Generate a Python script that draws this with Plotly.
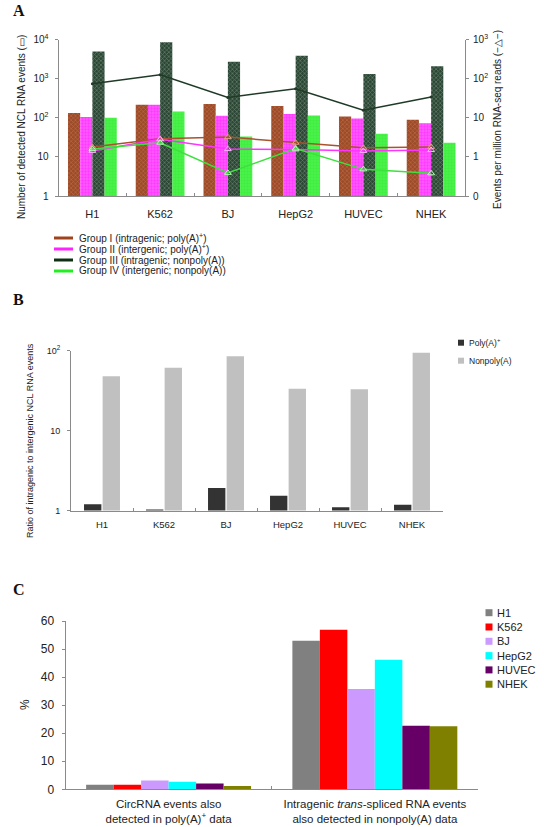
import plotly.graph_objects as go

# ---------------- data ----------------
cells = ["H1", "K562", "BJ", "HepG2", "HUVEC", "NHEK"]

# Panel A - bars: number of detected NCL RNA events (left axis, log)
grp1_events = [132, 215, 224, 200, 107, 89]
grp2_events = [105, 215, 113, 124, 96, 72]
grp3_events = [4900, 8500, 2700, 3870, 1320, 2080]
grp4_events = [100, 145, 33, 115, 39, 23]

# Panel A - lines: events per million RNA-seq reads (right axis, log)
grp1_epm = [1.8, 2.9, 3.2, 2.3, 1.7, 1.8]
grp2_epm = [1.42, 2.8, 1.58, 1.55, 1.42, 1.5]
grp3_epm = [74, 126, 33, 55, 15.5, 34]
grp4_epm = [1.6, 2.3, 0.39, 1.63, 0.48, 0.38]

group_names = [
    "Group I (intragenic; poly(A)<sup>+</sup>)",
    "Group II (intergenic; poly(A)<sup>+</sup>)",
    "Group III (intragenic; nonpoly(A))",
    "Group IV (intergenic; nonpoly(A))",
]

# Panel B - ratio of intragenic to intergenic NCL RNA events
ratio_polya = [1.2, 1.03, 1.91, 1.53, 1.1, 1.18]
ratio_nonpolya = [48, 61, 85, 33.4, 33, 94]
b_names = ["Poly(A)<sup>+</sup>", "Nonpoly(A)"]

# Panel C - percentages
c_categories = [
    "CircRNA events also<br>detected in poly(A)<sup>+</sup> data",
    "Intragenic <i>trans</i>-spliced RNA events<br>also detected in nonpoly(A) data",
]
c_values = {
    "H1": [1.6, 53.0],
    "K562": [1.6, 56.9],
    "BJ": [3.1, 35.8],
    "HepG2": [2.7, 46.2],
    "HUVEC": [2.1, 22.7],
    "NHEK": [1.2, 22.5],
}

# ---------------- styles ----------------
FONT = "Liberation Sans, Arial, sans-serif"
AXC = "#8a8a8a"
TXT = "#222222"
W, H = 544, 827

bar_styles = [
    dict(color="#a5532f", pattern=dict(shape="x", fgcolor="#d9906a", bgcolor="#9c4a28", size=3, solidity=0.35)),
    dict(color="#ff40ff", pattern=dict(shape=".", fgcolor="#ffc0ff", bgcolor="#ff33ff", size=3, solidity=0.35)),
    dict(color="#2e4a37", pattern=dict(shape="x", fgcolor="#9fb5a3", bgcolor="#2b4634", size=3, solidity=0.4)),
    dict(color="#44f044", pattern=dict(shape=".", fgcolor="#7dff7d", bgcolor="#40ee40", size=3, solidity=0.2)),
]
line_colors = ["#a8532c", "#ff33ff", "#1f3b27", "#3ee03e"]
marker_colors = ["#e0a080", "#ffb0ff", "#1f3b27", "#b0ffb0"]
legend_line_colors = ["#a0421c", "#ff22ff", "#0f2f14", "#22ee22"]
b_colors = ["#333333", "#c0c0c0"]
c_colors = {"H1": "#808080", "K562": "#ff0000", "BJ": "#cc99ff",
            "HepG2": "#00ffff", "HUVEC": "#660066", "NHEK": "#808000"}


def px(x):
    return x / W


def py(y):
    return 1 - y / H


fig = go.Figure()

# ---- Panel A bars ----
a_bar_w = 0.18
a_offsets = [-0.36, -0.18, 0.0, 0.18]
for vals, st, off, nm in zip([grp1_events, grp2_events, grp3_events, grp4_events],
                             bar_styles, a_offsets, group_names):
    fig.add_trace(go.Bar(x=cells, y=vals, width=a_bar_w, offset=off, name=nm,
                         marker=dict(color=st["color"], pattern=st["pattern"], line=dict(width=0)),
                         xaxis="x", yaxis="y", showlegend=False))

# ---- Panel A lines (right axis) ----
for i, vals in enumerate([grp1_epm, grp2_epm, grp3_epm, grp4_epm]):
    if i == 2:
        mk = dict(symbol="circle", size=3, color=marker_colors[i])
    else:
        mk = dict(symbol="triangle-up-open", size=6, color=marker_colors[i], line=dict(width=1))
    fig.add_trace(go.Scatter(x=cells, y=vals, mode="lines+markers", name=group_names[i],
                             line=dict(color=line_colors[i], width=1.5), marker=mk,
                             xaxis="x", yaxis="y2", showlegend=False))

# ---- Panel B ----
for vals, col, off, nm in zip([ratio_polya, ratio_nonpolya], b_colors, [-0.29, 0.01], b_names):
    fig.add_trace(go.Bar(x=cells, y=vals, width=0.28, offset=off, name=nm,
                         marker=dict(color=col, line=dict(width=0)),
                         xaxis="x2", yaxis="y3", showlegend=False))

# ---- Panel C ----
c_w = 0.1333
for k, cell in enumerate(cells):
    fig.add_trace(go.Bar(x=c_categories, y=c_values[cell], width=c_w, offset=-0.4 + k * c_w,
                         name=cell, marker=dict(color=c_colors[cell], line=dict(width=0)),
                         xaxis="x3", yaxis="y4", showlegend=False))

# ---- legends (drawn as shapes + text) ----
shapes = []
annotations = []
for i, nm in enumerate(group_names):
    ypx = 238 + i * 11
    shapes.append(dict(type="line", xref="paper", yref="paper", x0=px(54), x1=px(73),
                       y0=py(ypx), y1=py(ypx), line=dict(color=legend_line_colors[i], width=3)))
    annotations.append(dict(text=nm, xref="paper", yref="paper", x=px(76.5), y=py(ypx),
                            xanchor="left", yanchor="middle", showarrow=False,
                            font=dict(family=FONT, size=10, color=TXT)))

for k, nm in enumerate(b_names):
    ypx = 342.7 + k * 18
    shapes.append(dict(type="rect", xref="paper", yref="paper", x0=px(458), x1=px(464),
                       y0=py(ypx + 3), y1=py(ypx - 3), line=dict(width=0), fillcolor=b_colors[k]))
    annotations.append(dict(text=nm, xref="paper", yref="paper", x=px(467), y=py(ypx),
                            xanchor="left", yanchor="middle", showarrow=False,
                            font=dict(family=FONT, size=8.5, color=TXT)))

for k, cell in enumerate(cells):
    ypx = 612.7 + k * 14.3
    shapes.append(dict(type="rect", xref="paper", yref="paper", x0=px(485.5), x1=px(492.5),
                       y0=py(ypx + 3.5), y1=py(ypx - 3.5), line=dict(width=0),
                       fillcolor=c_colors[cell]))
    annotations.append(dict(text=cell, xref="paper", yref="paper", x=px(495), y=py(ypx),
                            xanchor="left", yanchor="middle", showarrow=False,
                            font=dict(family=FONT, size=11, color=TXT)))

# panel letters
for letter, ypx in [("A", 11), ("B", 299), ("C", 589)]:
    annotations.append(dict(text="<b>%s</b>" % letter, xref="paper", yref="paper", x=px(11),
                            y=py(ypx), xanchor="left", yanchor="middle", showarrow=False,
                            font=dict(family="Liberation Serif, Times New Roman, serif", size=16,
                                      color="#111111")))

# axis titles
annotations += [
    dict(text="Number of detected NCL RNA events (\u25AD)", xref="paper", yref="paper",
         x=px(22), y=py(127), textangle=-90, showarrow=False, xanchor="center", yanchor="middle",
         font=dict(family=FONT, size=10, color=TXT)),
    dict(text="Events per million RNA-seq reads (\u2212\u25B3\u2212)", xref="paper", yref="paper",
         x=px(498), y=py(120), textangle=-90, showarrow=False, xanchor="center", yanchor="middle",
         font=dict(family=FONT, size=10, color=TXT)),
    dict(text="Ratio of intragenic to intergenic NCL RNA events", xref="paper", yref="paper",
         x=px(30), y=py(441), textangle=-90, showarrow=False, xanchor="center", yanchor="middle",
         font=dict(family=FONT, size=9, color=TXT)),
    dict(text="%", xref="paper", yref="paper",
         x=px(25), y=py(705), textangle=-90, showarrow=False, xanchor="center", yanchor="middle",
         font=dict(family=FONT, size=12, color=TXT)),
]

common_x = dict(type="category", showline=True, linecolor=AXC, linewidth=1, ticks="inside",
                tickson="boundaries", ticklen=3, tickcolor=AXC, showgrid=False, zeroline=False,
                fixedrange=True, automargin=False, tickangle=0)
common_y = dict(showline=True, linecolor=AXC, linewidth=1, ticks="outside", ticklen=3,
                tickcolor=AXC, showgrid=False, zeroline=False, fixedrange=True, automargin=False)

fig.update_layout(
    width=W, height=H,
    margin=dict(l=0, r=0, t=0, b=0, autoexpand=False),
    paper_bgcolor="white", plot_bgcolor="white",
    barmode="overlay",
    showlegend=False,
    font=dict(family=FONT, color=TXT),
    xaxis=dict(common_x, domain=[px(58.5), px(465)], anchor="y",
               categoryorder="array", categoryarray=cells,
               tickfont=dict(size=11), ticklabelstandoff=8),
    yaxis=dict(common_y, domain=[py(196), py(39.5)], type="log", range=[0, 4],
               tickvals=[1, 10, 100, 1000, 10000],
               ticktext=["1", "10", "10<sup>2</sup>", "10<sup>3</sup>", "10<sup>4</sup>"],
               tickfont=dict(size=10), anchor="x", ticklabelstandoff=4),
    yaxis2=dict(common_y, overlaying="y", side="right", anchor="x", type="log", range=[-1, 3],
                tickvals=[0.1, 1, 10, 100, 1000],
                ticktext=["0", "1", "10", "10<sup>2</sup>", "10<sup>3</sup>"],
                tickfont=dict(size=10), ticklabelstandoff=2),
    xaxis2=dict(common_x, domain=[px(71), px(443)], anchor="y3",
                categoryorder="array", categoryarray=cells,
                tickfont=dict(size=9.5), ticklabelstandoff=5),
    yaxis3=dict(common_y, domain=[py(510.5), py(350.7)], type="log", range=[0, 2],
                tickvals=[1, 10, 100], ticktext=["1", "10", "10<sup>2</sup>"],
                tickfont=dict(size=9), anchor="x2", ticklabelstandoff=5),
    xaxis3=dict(common_x, domain=[px(65.5), px(478)], anchor="y4",
                tickfont=dict(size=11.5), ticklabelstandoff=4),
    yaxis4=dict(common_y, domain=[py(789.3), py(621)], range=[0, 60], dtick=10,
                tickfont=dict(size=12), anchor="x3", ticklabelstandoff=5),
    shapes=shapes,
    annotations=annotations,
)

fig.write_html("out.html", config={"displayModeBar": False},
               post_script="document.body.style.margin='0';document.body.style.padding='0';")
